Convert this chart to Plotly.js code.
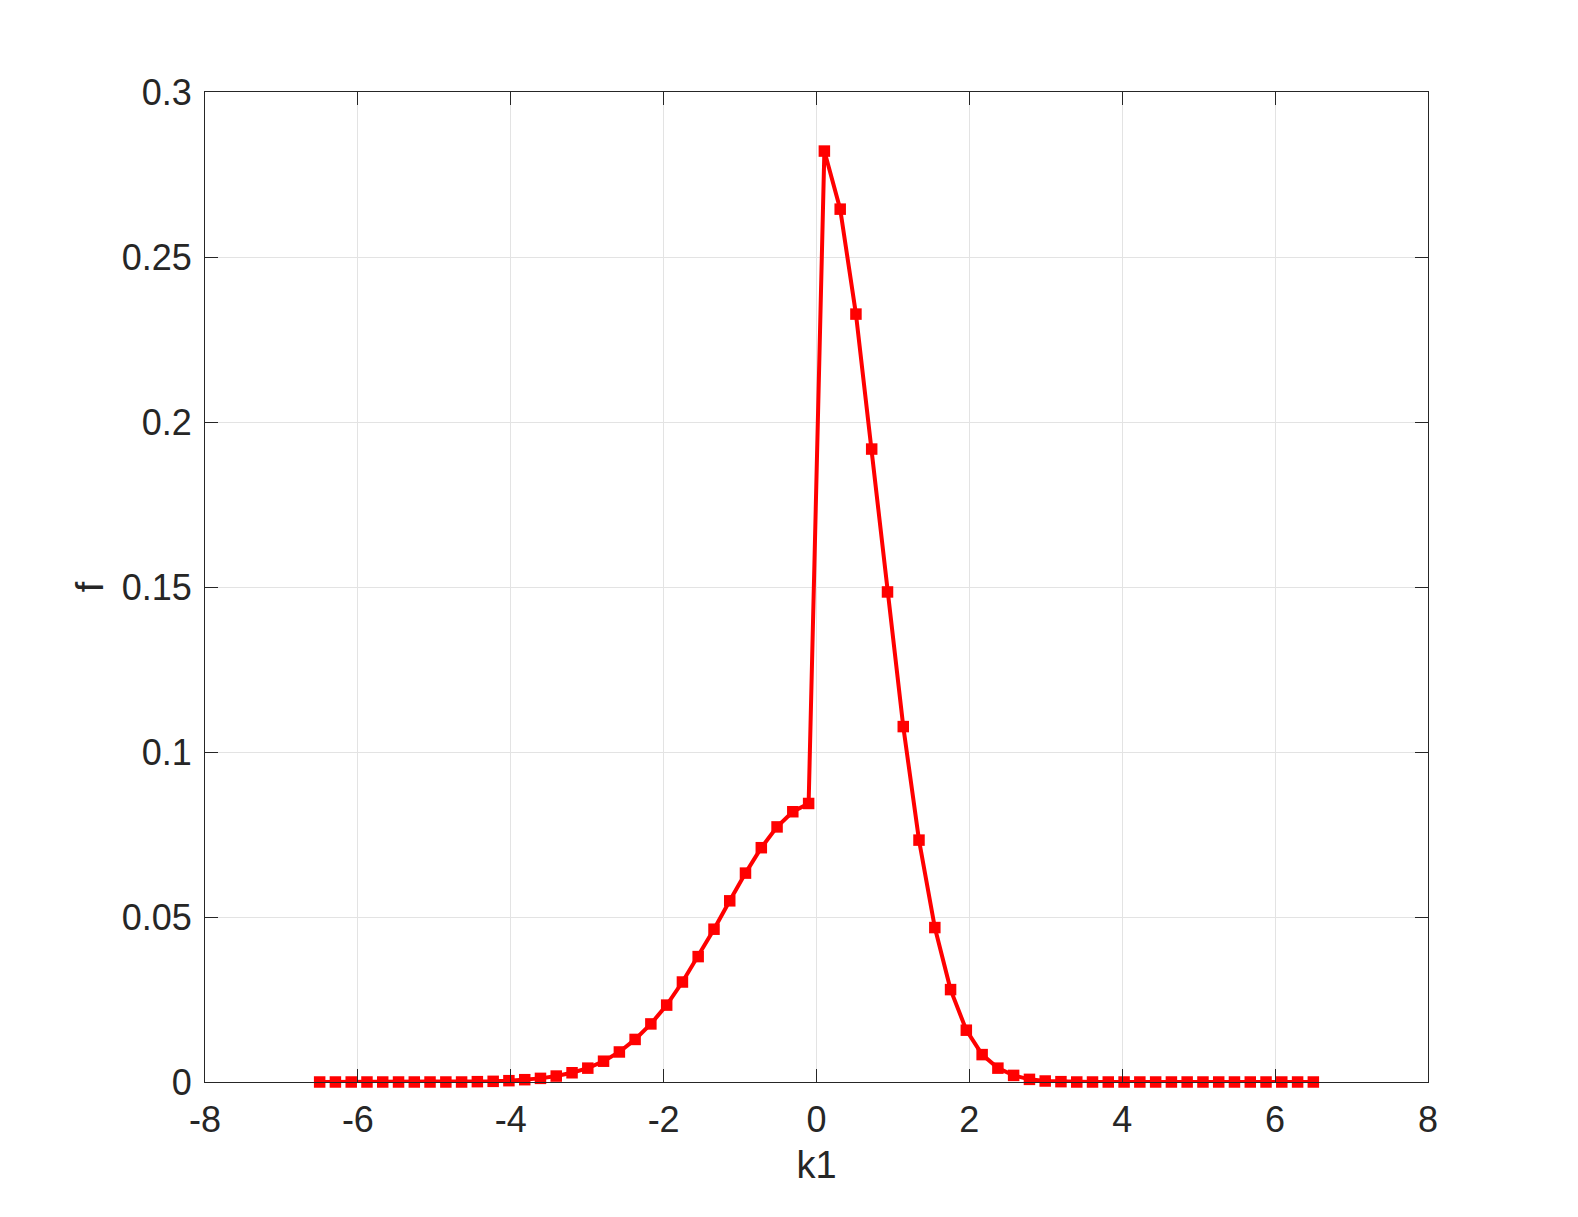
<!DOCTYPE html>
<html>
<head>
<meta charset="utf-8">
<script src="https://cdn.plot.ly/plotly-3.0.1.min.js"></script>
<style>
  html, body { margin: 0; padding: 0; background: #ffffff; }
  #chart { width: 1578px; height: 1217px; }
</style>
</head>
<body>
<div id="chart"></div>
<script>
// k1 sample points (64 points from -6.5 to 6.5)
const k1 = [
  -6.500, -6.294, -6.087, -5.881, -5.675, -5.468, -5.262, -5.056,
  -4.849, -4.643, -4.437, -4.230, -4.024, -3.817, -3.611, -3.405,
  -3.198, -2.992, -2.786, -2.579, -2.373, -2.167, -1.960, -1.754,
  -1.548, -1.341, -1.135, -0.929, -0.722, -0.516, -0.310, -0.103,
   0.103,  0.310,  0.516,  0.722,  0.929,  1.135,  1.341,  1.548,
   1.754,  1.960,  2.167,  2.373,  2.579,  2.786,  2.992,  3.198,
   3.405,  3.611,  3.817,  4.024,  4.230,  4.437,  4.643,  4.849,
   5.056,  5.262,  5.468,  5.675,  5.881,  6.087,  6.294,  6.500
];
// f values
const f = [
  0.0000, 0.0000, 0.0000, 0.0000, 0.0000, 0.0000, 0.0000, 0.0000,
  0.0000, 0.0000, 0.0001, 0.0002, 0.0004, 0.0007, 0.0011, 0.0018,
  0.0028, 0.0042, 0.0063, 0.0091, 0.0129, 0.0176, 0.0233, 0.0303,
  0.0380, 0.0463, 0.0549, 0.0633, 0.0710, 0.0773, 0.0819, 0.0844,
  0.2821, 0.2645, 0.2327, 0.1918, 0.1485, 0.1077, 0.0733, 0.0468,
  0.0280, 0.0157, 0.0083, 0.0042, 0.0020, 0.0008, 0.0003, 0.0001,
  0.0000, 0.0000, 0.0000, 0.0000, 0.0000, 0.0000, 0.0000, 0.0000,
  0.0000, 0.0000, 0.0000, 0.0000, 0.0000, 0.0000, 0.0000, 0.0000
];
const xTickVals = [-8, -6, -4, -2, 0, 2, 4, 6, 8];
const xTickText = ["-8", "-6", "-4", "-2", "0", "2", "4", "6", "8"];
const yTickVals = [0, 0.05, 0.1, 0.15, 0.2, 0.25, 0.3];
const yTickText = ["0", "0.05", "0.1", "0.15", "0.2", "0.25", "0.3"];

const trace = {
  x: k1, y: f,
  type: 'scatter', mode: 'lines+markers',
  line: { color: '#ff0000', width: 4 },
  marker: { symbol: 'square', size: 11.5, color: '#ff0000' },
  showlegend: false,
  cliponaxis: false
};

const axisCommon = {
  showline: true, linecolor: '#262626', linewidth: 1, mirror: 'ticks',
  ticks: 'inside', ticklen: 13, tickwidth: 1, tickcolor: '#262626',
  showgrid: true, gridcolor: '#e3e3e3', gridwidth: 1,
  zeroline: false,
  tickfont: { family: 'Liberation Sans, Arial, sans-serif', size: 36, color: '#262626' },
  fixedrange: true
};

const layout = {
  width: 1578, height: 1217,
  paper_bgcolor: '#ffffff', plot_bgcolor: '#ffffff',
  margin: { l: 205, r: 150, t: 92, b: 135, pad: 0 },
  font: { family: 'Liberation Sans, Arial, sans-serif', color: '#262626' },
  xaxis: Object.assign({}, axisCommon, {
    range: [-8, 8], tickmode: 'array', tickvals: xTickVals, ticktext: xTickText,
    ticklabelstandoff: 6,
    title: { text: 'k1', font: { size: 38, color: '#262626' }, standoff: 12 }
  }),
  yaxis: Object.assign({}, axisCommon, {
    range: [0, 0.3], tickmode: 'array', tickvals: yTickVals, ticktext: yTickText,
    ticklabelstandoff: 5,
    title: { text: 'f', font: { size: 38, color: '#262626' }, standoff: 6 }
  })
};

Plotly.newPlot('chart', [trace], layout, { displayModeBar: false, staticPlot: true });
</script>
</body>
</html>
